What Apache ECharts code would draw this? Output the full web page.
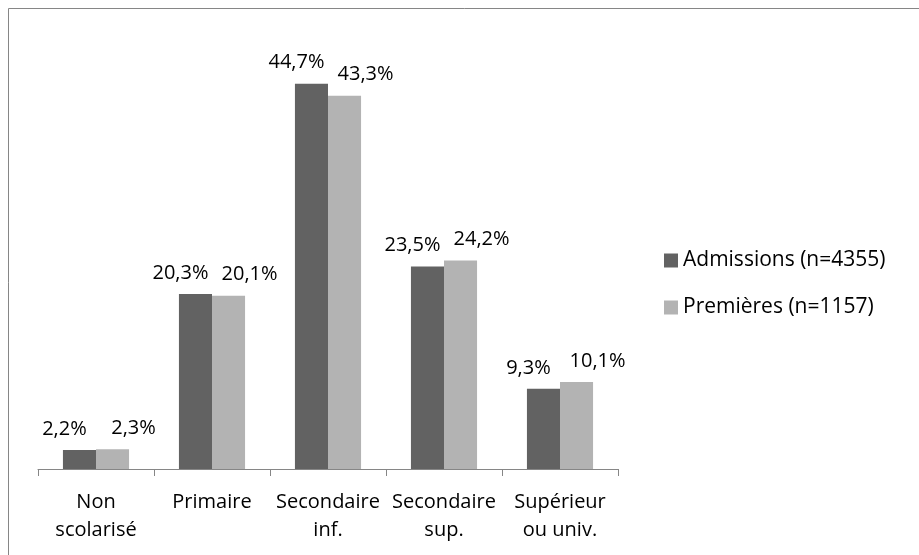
<!DOCTYPE html>
<html>
<head>
<meta charset="utf-8">
<script src="https://cdn.jsdelivr.net/npm/echarts@6/dist/echarts.min.js"></script>
<style>
  html, body { margin: 0; padding: 0; background: #fff; }
  #canvas { width: 919px; height: 555px; }
</style>
</head>
<body>
<div id="canvas"></div>
<script>
var categories = ['Non\nscolarisé', 'Primaire', 'Secondaire\ninf.', 'Secondaire\nsup.', 'Supérieur\nou univ.'];
var admissions = [2.2, 20.3, 44.7, 23.5, 9.3];
var premieres = [2.3, 20.1, 43.3, 24.2, 10.1];
var seriesNames = ['Admissions (n=4355)', 'Premières (n=1157)'];

var font = '"Open Sans", "Noto Sans", sans-serif';

function pct(p) {
  return p.value.toFixed(1).replace('.', ',') + '%';
}

function barLabel(dx) {
  return {
    show: true,
    position: 'top',
    distance: 11,
    offset: [dx, 0],
    fontSize: 20,
    color: '#000',
    fontFamily: font,
    formatter: pct
  };
}

var myChart = echarts.init(document.getElementById('canvas'));
var option = {
  animation: false,
  textStyle: { fontFamily: font },
  graphic: [{
    type: 'rect',
    shape: { x: 8.5, y: 8.5, width: 1000, height: 1000 },
    style: { fill: 'none', stroke: '#868686', lineWidth: 1 }
  }],
  legend: {
    orient: 'vertical',
    left: 659,
    top: 245,
    itemWidth: 14,
    itemHeight: 14,
    itemGap: 26,
    icon: 'rect',
    textStyle: { fontSize: 21, color: '#000', fontFamily: font },
    data: seriesNames
  },
  grid: { left: 38, right: 301, top: 38, bottom: 86 },
  xAxis: {
    type: 'category',
    data: categories,
    axisLine: { lineStyle: { color: '#868686', width: 1 } },
    axisTick: { show: true, length: 7, lineStyle: { color: '#868686' } },
    axisLabel: {
      interval: 0,
      hideOverlap: false,
      fontSize: 20,
      color: '#000',
      lineHeight: 28,
      margin: 19,
      fontFamily: font
    }
  },
  yAxis: {
    type: 'value',
    min: 0,
    max: 50,
    show: false,
    splitLine: { show: false }
  },
  series: [
    {
      name: seriesNames[0],
      type: 'bar',
      data: admissions,
      barGap: '0%',
      barCategoryGap: '43%',
      itemStyle: { color: '#626262' },
      label: barLabel(-15)
    },
    {
      name: seriesNames[1],
      type: 'bar',
      data: premieres,
      itemStyle: { color: '#b3b3b3' },
      label: barLabel(21)
    }
  ]
};
myChart.setOption(option, true);
</script>
</body>
</html>
